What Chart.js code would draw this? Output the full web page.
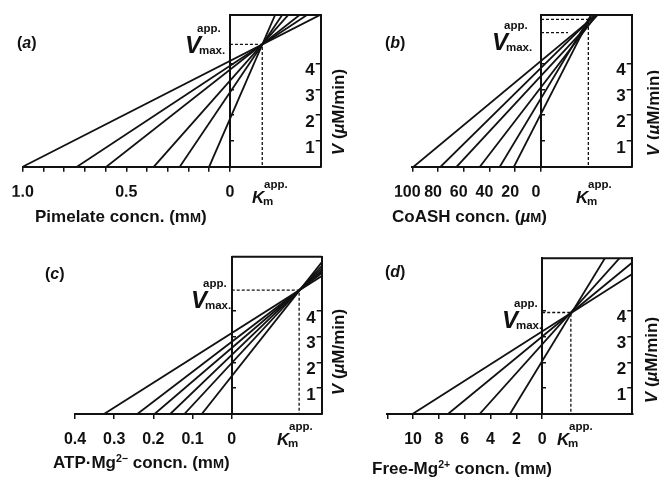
<!DOCTYPE html>
<html>
<head>
<meta charset="utf-8">
<script src="https://cdn.jsdelivr.net/npm/chart.js@4.4.1/dist/chart.umd.min.js"></script>
<style>
  html, body { margin: 0; padding: 0; background: #fff; }
  #page { position: relative; width: 659px; height: 480px; overflow: hidden;
          font-family: "Liberation Sans", Arial, sans-serif; font-weight: bold; color: #111; }
  canvas { position: absolute; }
  .t { position: absolute; white-space: nowrap; line-height: 1; }
  .sc { font-size: 0.78em; }
  sup { font-size: 0.62em; vertical-align: 0.6em; line-height: 0; }
  .rot { transform: translate(-50%, -50%) rotate(-90deg); }
</style>
</head>
<body>
<div id="page">
  <canvas id="pa" width="330" height="240" style="left:0;top:0"></canvas>
  <canvas id="pb" width="329" height="240" style="left:330px;top:0"></canvas>
  <canvas id="pc" width="330" height="240" style="left:0;top:240px"></canvas>
  <canvas id="pd" width="329" height="240" style="left:330px;top:240px"></canvas>
</div>
<script>
const ink = '#111';

// (a) pimelate, mM
const pimS = [1.0, 0.738, 0.596, 0.367, 0.242, 0.1];
const pimV = [4.10, 3.91, 3.76, 3.33, 2.88, 1.85];
const pimTicks = [-1.0, -0.9, -0.8, -0.7, -0.6, -0.5, -0.4, -0.3, -0.2, -0.1, 0];
const pimLabels = ['1.0', '', '', '', '', '0.5', '', '', '', '', '0'];
const pimKm = 0.156, pimVmax = 4.74;

// (b) CoASH, uM
const coaS = [99, 78, 65.5, 47.5, 32, 21];
const coaV = [4.10, 3.83, 3.52, 3.08, 2.65, 2.05];
const coaTicks = [-100, -80, -60, -40, -20, 0];
const coaLabels = ['100', '80', '60', '40', '20', '0'];
const coaKm = 36.8, coaVmax = 5.2, coaVmaxEnd = 21, coaTop = 5.71;

// (c) ATP.Mg, mM
const atpS = [0.326, 0.241, 0.197, 0.157, 0.121, 0.0765];
const atpV = [3.14, 2.80, 2.56, 2.29, 1.98, 1.47];
const atpTicks = [-0.4, -0.3, -0.2, -0.1, 0];
const atpLabels = ['0.4', '0.3', '0.2', '0.1', '0'];
const atpKm = 0.172, atpVmax = 4.8;

// (d) free Mg, mM
const mgS = [10.05, 7.3, 4.85, 2.5];
const mgV = [3.2, 3.0, 2.7, 2.05];
const mgTicks = [-12, -10, -8, -6, -4, -2, 0];
const mgLabels = ['', '10', '8', '6', '4', '2', '0'];
const mgKm = 2.22, mgVmax = 3.93;

// V axis
const vTicks = [1, 2, 3, 4];
const vLabels = ['1', '2', '3', '4'];

Chart.defaults.font.family = '"Liberation Sans", Arial, sans-serif';
Chart.defaults.color = ink;

function panel(id, o) {
  // each line of the direct linear plot goes through (-s, 0) and (0, v)
  const lines = o.s.map((s, i) => ({
    data: [{ x: -s, y: 0 }, { x: o.xMax, y: o.v[i] * (1 + o.xMax / s) }],
    borderColor: ink, borderWidth: 1.8
  }));
  const box = {
    data: [{ x: 0, y: o.yMax }, { x: o.xMax, y: o.yMax }],
    borderColor: ink, borderWidth: 2, clip: 4
  };
  const dashes = o.dashes.map(d => ({
    data: d, borderColor: ink, borderWidth: 1.3, borderDash: [3, 2]
  }));
  const datasets = lines.concat(dashes, [box]).map(d =>
    Object.assign(d, { xAxisID: 'x', yAxisID: 'y', showLine: true, pointRadius: 0, fill: false }));

  const vTickSet = sc => { sc.ticks = vTicks.map(v => ({ value: v })); };
  const tickFont = { size: 16, weight: 'bold' };

  return new Chart(document.getElementById(id), {
    type: 'scatter',
    data: { datasets },
    options: {
      responsive: false,
      animation: false,
      events: [],
      layout: { padding: o.pad },
      plugins: { legend: { display: false }, tooltip: { enabled: false } },
      scales: {
        x: {
          type: 'linear', position: 'bottom', min: o.xMin, max: o.xMax,
          afterBuildTicks: sc => { sc.ticks = o.xTicks.map(v => ({ value: v })); },
          afterFit: sc => { sc.height = 30; sc.paddingLeft = 0; sc.paddingRight = 0; },
          ticks: { callback: (v, i) => o.xLabels[i], font: tickFont, color: ink,
                   padding: 11, labelOffset: o.xShift || 0, maxRotation: 0, autoSkip: false },
          grid: { drawOnChartArea: false, tickLength: 5, color: ink, lineWidth: 1.5 },
          border: { color: ink, width: 2 }
        },
        y: {
          type: 'linear', position: 'right', min: 0, max: o.yMax,
          afterBuildTicks: vTickSet,
          afterFit: sc => { sc.width = 1; sc.paddingTop = 0; sc.paddingBottom = 0; },
          ticks: { callback: (v, i) => vLabels[i], mirror: true, padding: -6, labelOffset: 7,
                   font: { size: 17, weight: 'bold' }, color: ink },
          grid: { drawOnChartArea: false, tickLength: -5, color: ink, lineWidth: 1.5 },
          border: { color: ink, width: 2 }
        },
        y0: {
          axis: 'y', type: 'linear', position: { x: 0 }, min: 0, max: o.yMax,
          afterBuildTicks: vTickSet,
          afterFit: sc => { sc.paddingTop = 0; sc.paddingBottom = 0; },
          ticks: { display: false },
          grid: { drawOnChartArea: false, tickLength: -5, color: ink, lineWidth: 1.5 },
          border: { color: ink, width: 2 }
        }
      }
    }
  });
}

panel('pa', {
  s: pimS, v: pimV, xTicks: pimTicks, xLabels: pimLabels,
  xMin: -1.0, xMax: 0.438, yMax: 5.88,
  pad: { left: 22.7, top: 15, right: 8.3, bottom: 43.3 },
  dashes: [[{ x: 0, y: pimVmax }, { x: pimKm, y: pimVmax }, { x: pimKm, y: 0 }]]
});
panel('pb', {
  s: coaS, v: coaV, xTicks: coaTicks, xLabels: coaLabels,
  xMin: -100, xMax: 70.5, yMax: 5.88, xShift: -5,
  pad: { left: 82.3, top: 15, right: 26.3, bottom: 43.3 },
  dashes: [[{ x: 0, y: coaVmax }, { x: coaVmaxEnd, y: coaVmax }],
           [{ x: 0, y: coaTop }, { x: coaKm, y: coaTop }, { x: coaKm, y: 0 }]]
});
panel('pc', {
  s: atpS, v: atpV, xTicks: atpTicks, xLabels: atpLabels,
  xMin: -0.4, xMax: 0.2296, yMax: 6.1,
  pad: { left: 75, top: 16.7, right: 7.3, bottom: 36 },
  dashes: [[{ x: 0, y: atpVmax }, { x: atpKm, y: atpVmax }, { x: atpKm, y: 0 }]]
});
panel('pd', {
  s: mgS, v: mgV, xTicks: mgTicks, xLabels: mgLabels,
  xMin: -12, xMax: 6.98, yMax: 6.03,
  pad: { left: 57.3, top: 18.3, right: 25.7, bottom: 36 },
  dashes: [[{ x: 0, y: mgVmax }, { x: mgKm, y: mgVmax }, { x: mgKm, y: 0 }]]
});

// text: x = left edge, base = baseline (line-height 1)
const page = document.getElementById('page');
function put(html, x, base, size, style) {
  const el = document.createElement('div');
  el.className = 't';
  el.innerHTML = html;
  el.style.left = x + 'px';
  el.style.top = (base - 0.8465 * size) + 'px';
  el.style.fontSize = size + 'px';
  if (style) el.style.cssText += style;
  page.appendChild(el);
}
function rotTitle(cx, cy) {
  const el = document.createElement('div');
  el.className = 't rot';
  el.innerHTML = '<i>V</i> (<i>µ</i>M/min)';
  el.style.left = cx + 'px';
  el.style.top = cy + 'px';
  el.style.fontSize = '17px';
  page.appendChild(el);
}
function vmax(x, base) {
  put('<i>V</i>', x, base, 24);
  put('app.', x + 12, base - 20, 11.5);
  put('max.', x + 14, base + 2, 11.5);
}
function km(x, base) {
  put('<i>K</i>', x, base, 17);
  put('app.', x + 12, base - 14, 11.5);
  put('m', x + 11, base + 3, 11.5);
}

put('(<i>a</i>)', 17, 49, 16);
put('(<i>b</i>)', 385, 49, 16);
put('(<i>c</i>)', 45, 280, 16);
put('(<i>d</i>)', 385, 278, 16);

vmax(185, 53); vmax(492, 50); vmax(191, 308); vmax(502, 328);
km(252, 203); km(576, 203); km(277, 445); km(557, 445);

put('Pimelate concn. (m<span class="sc">M</span>)', 35, 222, 17);
put('CoASH concn. (<i>µ</i><span class="sc">M</span>)', 392, 222, 17);
put('ATP·Mg<sup>2−</sup> concn. (m<span class="sc">M</span>)', 53, 468, 17);
put('Free-Mg<sup>2+</sup> concn. (m<span class="sc">M</span>)', 372, 474, 17);

rotTitle(338, 112); rotTitle(653, 113); rotTitle(338, 352); rotTitle(651, 360);
</script>
</body>
</html>
